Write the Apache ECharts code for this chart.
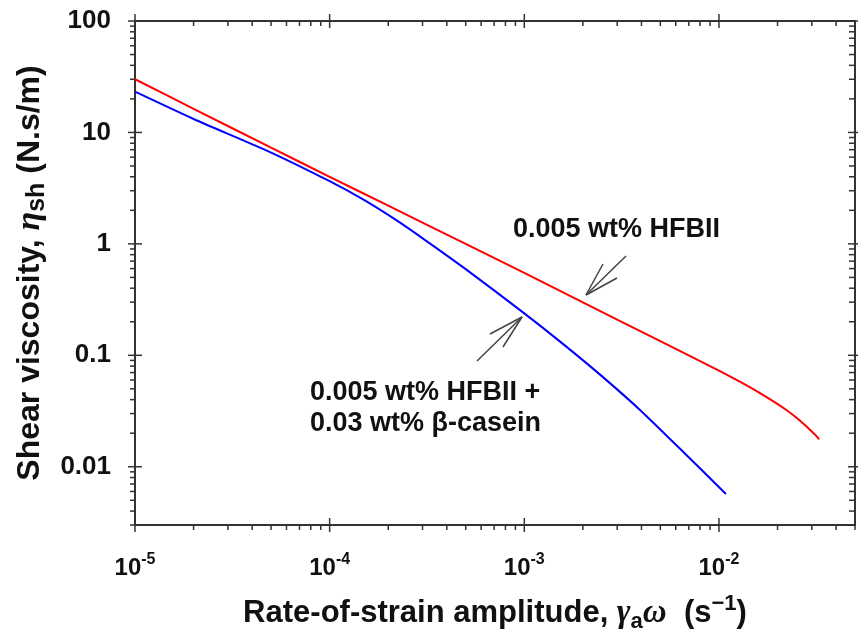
<!DOCTYPE html>
<html>
<head>
<meta charset="utf-8">
<script src="https://cdn.jsdelivr.net/npm/echarts@6/dist/echarts.min.js"></script>
<style>
html,body{margin:0;padding:0;background:#fff;}
#chart{width:858px;height:630px;}
</style>
</head>
<body>
<div id="chart"></div>
<script>
// ---- data ----
const redName = '0.005 wt% HFBII';
const redX = [1e-5, 2e-5, 5e-5, 1e-4, 2e-4, 5e-4, 1e-3, 2e-3, 5e-3, 1e-2, 1.259e-2, 1.585e-2, 1.995e-2, 2.239e-2, 2.512e-2, 2.818e-2, 3.162e-2, 3.27e-2];
const redY = [30, 16.3, 7.3, 4.0, 2.2, 1.0, 0.55, 0.298, 0.134, 0.073, 0.0589, 0.047, 0.0367, 0.032, 0.0274, 0.023, 0.0189, 0.0176];

const blueName = '0.005 wt% HFBII + 0.03 wt% β-casein';
const blueX = [1e-5, 2e-5, 5e-5, 1e-4, 1.5e-4, 2.19e-4, 3.16e-4, 5e-4, 1e-3, 1.585e-3, 2.51e-3, 3.98e-3, 6.31e-3, 1.086e-2];
const blueY = [23.2, 13.2, 6.6, 3.65, 2.48, 1.64, 1.054, 0.593, 0.238, 0.126, 0.0647, 0.0317, 0.0145, 0.0057];

const xMin = 1e-5, xMax = 0.05;
const yMin = 0.003, yMax = 100;
const xMajorTicks = [1e-5, 1e-4, 1e-3, 1e-2];
const yMajorTicks = [0.01, 0.1, 1, 10, 100];
const minorMultipliers = [2, 3, 4, 5, 6, 7, 8, 9];

const xTitle = 'Rate-of-strain amplitude, {g|γ}{sub|a}{g|ω}  (s{sup|−1})';
const yTitle = 'Shear viscosity, {g|η}{sub|sh} (N.s/m)';
const label1 = '0.005 wt% HFBII';
const label2 = '0.005 wt% HFBII +\n0.03 wt% β-casein';

// ---- build tick lists (decade structure of log axes) ----
function minorTicks(majors, lo, hi) {
  const out = [];
  const first = majors[0] / 10;
  for (let d = first; d <= majors[majors.length - 1] * 1.0001; d *= 10) {
    minorMultipliers.forEach(m => {
      const v = m * d;
      if (v > lo * 0.9999 && v < hi * 1.0001) out.push(v);
    });
  }
  return out;
}
const xTickData = xMajorTicks.map(v => [v, 2]).concat(minorTicks(xMajorTicks, xMin, xMax).map(v => [v, 1]));
const yTickData = yMajorTicks.map(v => [2, v]).concat(minorTicks(yMajorTicks, yMin, yMax).map(v => [1, v]));

const FONT = 'Liberation Sans, Arial, Helvetica, sans-serif';
const AX = '#333';

const chart = echarts.init(document.getElementById('chart'), null, {renderer: 'canvas'});

function tickStyle() { return {stroke: AX, lineWidth: 1.5}; }

const option = {
  animation: false,
  backgroundColor: '#fff',
  grid: {left: 135, top: 21, width: 720, height: 504, containLabel: false, outerBoundsMode: 'none'},
  xAxis: [{
    type: 'log', logBase: 10, min: xMin, max: xMax, position: 'bottom',
    axisLine: {show: true, lineStyle: {color: AX, width: 2}},
    axisTick: {show: false}, splitLine: {show: false}, minorTick: {show: false},
    axisLabel: {
      show: true, margin: 27, showMinLabel: true, showMaxLabel: false,
      formatter: v => '{b|10}{s|' + Math.round(Math.log10(v)) + '}',
      rich: {
        b: {fontFamily: FONT, fontWeight: 'bold', fontSize: 24, color: '#111', lineHeight: 28, verticalAlign: 'bottom'},
        s: {fontFamily: FONT, fontWeight: 'bold', fontSize: 16, color: '#111', lineHeight: 16, verticalAlign: 'top'}
      }
    },
    name: xTitle, nameLocation: 'middle', nameGap: 88,
    nameTextStyle: {
      fontFamily: FONT, fontWeight: 'bold', fontSize: 31, color: '#111', verticalAlign: 'middle', lineHeight: 40,
      rich: {
        g: {fontFamily: 'Liberation Serif, DejaVu Serif, serif', fontStyle: 'italic', fontSize: 33, color: '#111', lineHeight: 40},
        sub: {fontFamily: FONT, fontWeight: 'bold', fontSize: 22, color: '#111', lineHeight: 22, verticalAlign: 'bottom'},
        sup: {fontFamily: FONT, fontWeight: 'bold', fontSize: 22, color: '#111', lineHeight: 22, verticalAlign: 'top'}
      }
    }
  }, {
    type: 'log', logBase: 10, min: xMin, max: xMax, position: 'top',
    axisLine: {show: true, lineStyle: {color: AX, width: 2}},
    axisTick: {show: false}, splitLine: {show: false}, axisLabel: {show: false}
  }],
  yAxis: [{
    type: 'log', logBase: 10, min: yMin, max: yMax, position: 'left',
    axisLine: {show: true, lineStyle: {color: AX, width: 2}},
    axisTick: {show: false}, splitLine: {show: false}, minorTick: {show: false},
    axisLabel: {
      show: true, margin: 24, showMinLabel: false, showMaxLabel: true,
      fontFamily: FONT, fontWeight: 'bold', fontSize: 26, color: '#111',
      formatter: v => v >= 1 ? String(Math.round(v)) : String(parseFloat(v.toPrecision(1)))
    },
    name: yTitle, nameLocation: 'middle', nameGap: 99, nameRotate: 90,
    nameTextStyle: {
      fontFamily: FONT, fontWeight: 'bold', fontSize: 32, color: '#111', verticalAlign: 'middle', lineHeight: 38,
      rich: {
        g: {fontFamily: 'Liberation Serif, DejaVu Serif, serif', fontStyle: 'italic', fontSize: 34, color: '#111', lineHeight: 38},
        sub: {fontFamily: FONT, fontWeight: 'bold', fontSize: 25, color: '#111', lineHeight: 25, verticalAlign: 'bottom'}
      }
    }
  }, {
    type: 'log', logBase: 10, min: yMin, max: yMax, position: 'right',
    axisLine: {show: true, lineStyle: {color: AX, width: 2}},
    axisTick: {show: false}, splitLine: {show: false}, axisLabel: {show: false}
  }],
  series: [
    {
      name: redName, type: 'line', xAxisIndex: 0, yAxisIndex: 0,
      data: redX.map((x, i) => [x, redY[i]]),
      showSymbol: false, smooth: 0.2, lineStyle: {color: '#ff0000', width: 2}, itemStyle: {color: '#ff0000'}, z: 3
    },
    {
      name: blueName, type: 'line', xAxisIndex: 0, yAxisIndex: 0,
      data: blueX.map((x, i) => [x, blueY[i]]),
      showSymbol: false, smooth: 0.2, lineStyle: {color: '#0000ff', width: 2}, itemStyle: {color: '#0000ff'}, z: 3
    },
    {
      name: 'xTicks', type: 'custom', xAxisIndex: 0, yAxisIndex: 0, clip: false, silent: true,
      encode: {x: 0, y: 1},
      data: xTickData,
      renderItem: function (params, api) {
        const cs = params.coordSys;
        const px = api.coord([api.value(0), 1])[0];
        const major = api.value(1) === 2;
        const top = cs.y, bot = cs.y + cs.height;
        const L = 7, m = 5;
        return {type: 'group', children: [
          {type: 'line', shape: {x1: px, y1: major ? bot - L : bot, x2: px, y2: bot + (major ? L : m)}, style: tickStyle()},
          {type: 'line', shape: {x1: px, y1: major ? top - L : top, x2: px, y2: top + (major ? L : m)}, style: tickStyle()}
        ]};
      }
    },
    {
      name: 'yTicks', type: 'custom', xAxisIndex: 0, yAxisIndex: 0, clip: false, silent: true,
      encode: {x: 0, y: 1},
      data: yTickData,
      renderItem: function (params, api) {
        const cs = params.coordSys;
        const py = api.coord([1e-3, api.value(1)])[1];
        const major = api.value(0) === 2;
        const left = cs.x, right = cs.x + cs.width;
        const L = 7, m = 5;
        return {type: 'group', children: [
          {type: 'line', shape: {x1: left - (major ? L : m), y1: py, x2: major ? left + L : left, y2: py}, style: tickStyle()},
          {type: 'line', shape: {x1: right - (major ? L : m + 1), y1: py, x2: major ? right + L : right, y2: py}, style: tickStyle()}
        ]};
      }
    }
  ],
  graphic: [
    {type: 'text', x: 513, y: 230, style: {text: label1, fontFamily: FONT, fontWeight: 'bold', fontSize: 27, fill: '#111', align: 'left', verticalAlign: 'middle'}},
    {type: 'text', x: 310, y: 408, style: {text: label2, fontFamily: FONT, fontWeight: 'bold', fontSize: 27, lineHeight: 31, fill: '#111', align: 'left', verticalAlign: 'middle'}},
    // arrow to red curve
    {type: 'line', shape: {x1: 586, y1: 295, x2: 626, y2: 256}, style: {stroke: '#444', lineWidth: 1.5}},
    {type: 'line', shape: {x1: 586, y1: 295, x2: 603, y2: 264}, style: {stroke: '#444', lineWidth: 1.5}},
    {type: 'line', shape: {x1: 586, y1: 295, x2: 617, y2: 278}, style: {stroke: '#444', lineWidth: 1.5}},
    // arrow to blue curve
    {type: 'line', shape: {x1: 522, y1: 317, x2: 477, y2: 361}, style: {stroke: '#444', lineWidth: 1.5}},
    {type: 'line', shape: {x1: 522, y1: 317, x2: 490, y2: 334}, style: {stroke: '#444', lineWidth: 1.5}},
    {type: 'line', shape: {x1: 522, y1: 317, x2: 503, y2: 347}, style: {stroke: '#444', lineWidth: 1.5}}
  ]
};
chart.setOption(option);
</script>
</body>
</html>
